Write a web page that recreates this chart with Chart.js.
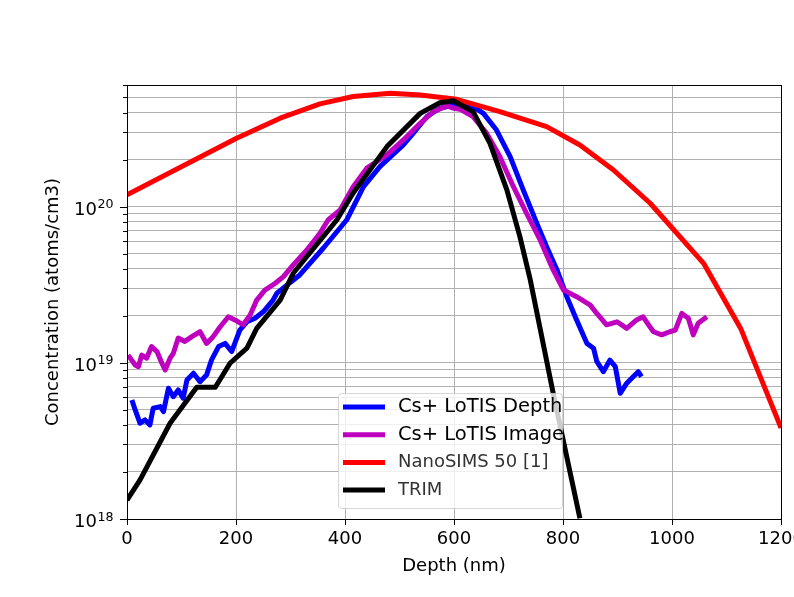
<!DOCTYPE html>
<html>
<head>
<meta charset="utf-8">
<script src="https://cdn.jsdelivr.net/npm/chart.js@4.4.1/dist/chart.umd.min.js"></script>
<style>
  body { margin: 0; background: #fff; }
  #wrap { width: 794px; height: 597px; }
</style>
</head>
<body>
<div id="wrap"><canvas id="Grafico" width="794" height="597"></canvas></div>
<script>
// Dados: profundidade (nm) e concentração (atoms/cm3)
const depthLotisDepth = [9, 15, 24, 33, 42, 48, 61, 67, 76, 85, 94, 103, 110, 122, 134, 146, 155, 168, 180, 192,
  207, 220, 235, 250, 268, 275, 317, 360, 403, 434, 464, 507, 525, 550, 574, 599, 635, 654, 678, 703,
  727, 752, 770, 789, 807, 825, 844, 856, 862, 874, 886, 896, 905, 917, 926, 938, 944];
const concLotisDepth = [5.78e18, 4.99e18, 4.10e18, 4.31e18, 4.0e18, 5.12e18, 5.24e18, 4.87e18, 6.87e18, 6.07e18,
  6.70e18, 5.93e18, 7.76e18, 8.57e18, 7.57e18, 8.36e18, 1.04e19, 1.27e19, 1.33e19, 1.18e19,
  1.62e19, 1.83e19, 1.93e19, 2.12e19, 2.52e19, 2.79e19, 3.65e19, 5.41e19, 8.2e19, 1.34e20,
  1.80e20, 2.48e20, 2.94e20, 3.76e20, 4.26e20, 4.47e20, 4.36e20, 3.95e20, 3.09e20, 2.09e20,
  1.28e20, 7.81e19, 5.53e19, 3.93e19, 2.65e19, 1.88e19, 1.33e19, 1.24e19, 1.02e19, 8.77e18,
  1.04e19, 9.44e18, 6.38e18, 7.40e18, 7.96e18, 8.77e18, 8.15e18];

const depthLotisImage = [2, 15, 21, 27, 36, 45, 55, 64, 70, 79, 85, 94, 106, 119, 134, 146, 158, 171, 186, 198,
  213, 226, 238, 253, 272, 287, 305, 330, 354, 369, 391, 415, 440, 477, 507, 538, 562, 587, 599, 611,
  635, 660, 684, 709, 733, 758, 782, 801, 825, 850, 862, 880, 899, 917, 935, 947, 957, 966, 981, 996,
  1006, 1018, 1030, 1039, 1048, 1064];
const concLotisImage = [1.12e19, 9.68e18, 9.44e18, 1.12e19, 1.07e19, 1.27e19, 1.18e19, 9.93e18, 9.0e18, 1.07e19,
  1.15e19, 1.44e19, 1.37e19, 1.47e19, 1.58e19, 1.33e19, 1.47e19, 1.70e19, 1.97e19, 1.88e19,
  1.75e19, 2.02e19, 2.52e19, 2.92e19, 3.23e19, 3.56e19, 4.23e19, 5.27e19, 6.75e19, 8.2e19,
  9.5e19, 1.34e20, 1.76e20, 2.14e20, 2.67e20, 3.41e20, 4.05e20, 4.41e20, 4.26e20, 4.20e20,
  3.76e20, 2.94e20, 2.09e20, 1.34e20, 9.06e19, 6.11e19, 3.93e19, 2.92e19, 2.65e19, 2.34e19,
  2.07e19, 1.75e19, 1.83e19, 1.66e19, 1.88e19, 1.97e19, 1.75e19, 1.58e19, 1.51e19, 1.58e19,
  1.62e19, 2.07e19, 1.93e19, 1.51e19, 1.79e19, 1.97e19];

const depthNanoSims = [0, 201, 281, 354, 415, 483, 538, 605, 684, 770, 831, 892, 960, 1058, 1126, 1200];
const concNanoSims = [1.19e20, 2.74e20, 3.68e20, 4.54e20, 5.06e20, 5.31e20, 5.18e20, 4.86e20, 4.05e20, 3.25e20,
  2.48e20, 1.72e20, 1.05e20, 4.33e19, 1.66e19, 3.83e18];

const depthTrim = [0, 24, 79, 128, 162, 189, 220, 238, 281, 305, 385, 415, 477, 538, 574, 599, 635, 666, 697, 721,
  740, 758, 782, 831];
const concTrim = [1.32e18, 1.78e18, 4.10e18, 6.97e18, 6.97e18, 9.93e18, 1.24e19, 1.66e19, 2.52e19, 3.74e19,
  8.2e19, 1.22e20, 2.42e20, 3.95e20, 4.62e20, 4.76e20, 4.05e20, 2.54e20, 1.28e20, 6.4e19,
  3.39e19, 1.66e19, 6.38e18, 1.01e18];

const seriesNames = ['Cs+ LoTIS Depth', 'Cs+ LoTIS Image', 'NanoSIMS 50 [1]', 'TRIM'];
const seriesColors = ['#0000ff', '#bf00bf', '#ff0000', '#000000'];

// Marcas dos eixos
const xTicks = [0, 200, 400, 600, 800, 1000, 1200];
const yDecades = [1e18, 1e19, 1e20];
const yMinorSteps = [2, 3, 4, 5, 6, 7, 8, 9];
const yMin = 1e18;
const yMax = 6e20;

// Monta a lista de valores das marcas do eixo y (décadas + intermediárias)
function buildYTicks() {
    const vals = [];
    yDecades.forEach(d => {
        vals.push(d);
        yMinorSteps.forEach(s => {
            const v = Math.round(d * s / 1e16) * 1e16;
            if (v <= yMax) vals.push(v);
        });
    });
    return vals;
}

function decadeExponent(value) {
    const lg = Math.log10(value);
    const exp = Math.round(lg);
    return Math.abs(lg - exp) < 1e-6 ? exp : null;
}

function toPoints(xs, ys) {
    return xs.map((x, i) => ({ x: x, y: ys[i] }));
}

Chart.defaults.font.family = '"DejaVu Sans", sans-serif';
Chart.defaults.font.size = 18;
Chart.defaults.color = '#000';

// Contorno do gráfico, marcas e rótulos do eixo y (10 com expoente) e legenda por cima
const molduraPlugin = {
    id: 'moldura',
    afterDatasetsDraw(chart) {
        const { ctx, chartArea: a, scales: { x, y } } = chart;
        ctx.save();
        ctx.strokeStyle = '#000';
        ctx.lineWidth = 1;
        ctx.beginPath();
        x.ticks.forEach(t => {
            const px = Math.round(x.getPixelForValue(t.value)) + 0.5;
            ctx.moveTo(px, a.bottom);
            ctx.lineTo(px, a.bottom + 6);
        });
        y.ticks.forEach(t => {
            const py = Math.round(y.getPixelForValue(t.value)) + 0.5;
            const len = decadeExponent(t.value) !== null ? 7 : 4;
            ctx.moveTo(a.left, py);
            ctx.lineTo(a.left - len, py);
        });
        ctx.stroke();
        ctx.strokeRect(Math.round(a.left) + 0.5, Math.round(a.top) + 0.5,
            Math.round(a.right - a.left), Math.round(a.bottom - a.top));

        // Rótulos do eixo y: "10" + expoente sobrescrito
        ctx.fillStyle = '#000';
        ctx.textAlign = 'right';
        ctx.textBaseline = 'alphabetic';
        y.ticks.forEach(t => {
            const exp = decadeExponent(t.value);
            if (exp === null) return;
            const py = y.getPixelForValue(t.value);
            const right = a.left - 13.5;
            ctx.font = '12.6px "DejaVu Sans"';
            const expText = String(exp);
            const w = ctx.measureText(expText).width;
            ctx.fillText(expText, right, py + 1.5);
            ctx.font = '18px "DejaVu Sans"';
            ctx.fillText('10', right - w - 0.5, py + 8.3);
        });

        // Legenda
        const lx = a.left + 211, ly = a.top + 308, lw = 224, lh = 115;
        ctx.fillStyle = 'rgba(255,255,255,0.8)';
        ctx.strokeStyle = 'rgba(204,204,204,0.8)';
        ctx.beginPath();
        ctx.roundRect(lx + 0.5, ly + 0.5, lw, lh, 3);
        ctx.fill();
        ctx.stroke();
        ctx.textBaseline = 'middle';
        ctx.textAlign = 'left';
        seriesNames.forEach((name, i) => {
            const yy = ly + 14 + i * 27.7;
            ctx.strokeStyle = seriesColors[i];
            ctx.lineWidth = 5;
            ctx.beginPath();
            ctx.moveTo(lx + 5, yy);
            ctx.lineTo(lx + 47, yy);
            ctx.stroke();
            ctx.font = i < 2 ? '19.5px "DejaVu Sans"' : '18px "DejaVu Sans"';
            ctx.fillStyle = i < 2 ? '#000' : '#333';
            ctx.fillText(name, lx + 60, yy);
        });
        ctx.restore();
    }
};

document.addEventListener('DOMContentLoaded', function() {
    const ctx = document.getElementById('Grafico').getContext('2d');

    const series = [
        toPoints(depthLotisDepth, concLotisDepth),
        toPoints(depthLotisImage, concLotisImage),
        toPoints(depthNanoSims, concNanoSims),
        toPoints(depthTrim, concTrim)
    ];

    const data = {
        datasets: series.map((pts, i) => ({
            label: seriesNames[i],
            data: pts,
            borderColor: seriesColors[i],
            borderWidth: 5,
            borderJoinStyle: 'round',
            pointRadius: 0,
            tension: 0,
            fill: false,
            clip: 0,
            order: series.length - i // a última série fica por cima
        }))
    };

    const options = {
        responsive: false,
        animation: false,
        layout: { padding: { top: 85, right: 13, left: 0, bottom: 0 } },
        plugins: {
            legend: { display: false },
            tooltip: { enabled: false }
        },
        scales: {
            x: {
                type: 'linear',
                min: 0,
                max: 1200,
                afterBuildTicks: scale => { scale.ticks = xTicks.map(v => ({ value: v })); },
                afterFit: scale => { scale.height = 78; scale.paddingLeft = 0; scale.paddingRight = 0; },
                ticks: {
                    autoSkip: false,
                    maxRotation: 0,
                    padding: 10,
                    color: '#000',
                    callback: value => String(value)
                },
                grid: { color: '#b0b0b0', lineWidth: 1, drawTicks: false },
                border: { display: false },
                title: { display: true, text: 'Depth (nm)', color: '#000', padding: { top: 0, bottom: 20 } }
            },
            y: {
                type: 'logarithmic',
                min: yMin,
                max: yMax,
                afterBuildTicks: scale => { scale.ticks = buildYTicks().map(v => ({ value: v })); },
                afterFit: scale => { scale.width = 127; scale.paddingTop = 0; scale.paddingBottom = 0; },
                ticks: { autoSkip: false, display: false },
                grid: { color: '#b0b0b0', lineWidth: 1, drawTicks: false },
                border: { display: false },
                title: { display: true, text: 'Concentration (atoms/cm3)', color: '#000', padding: { top: 43, bottom: 0 } }
            }
        }
    };

    new Chart(ctx, {
        type: 'line',
        data: data,
        options: options,
        plugins: [molduraPlugin]
    });
});
</script>
</body>
</html>
